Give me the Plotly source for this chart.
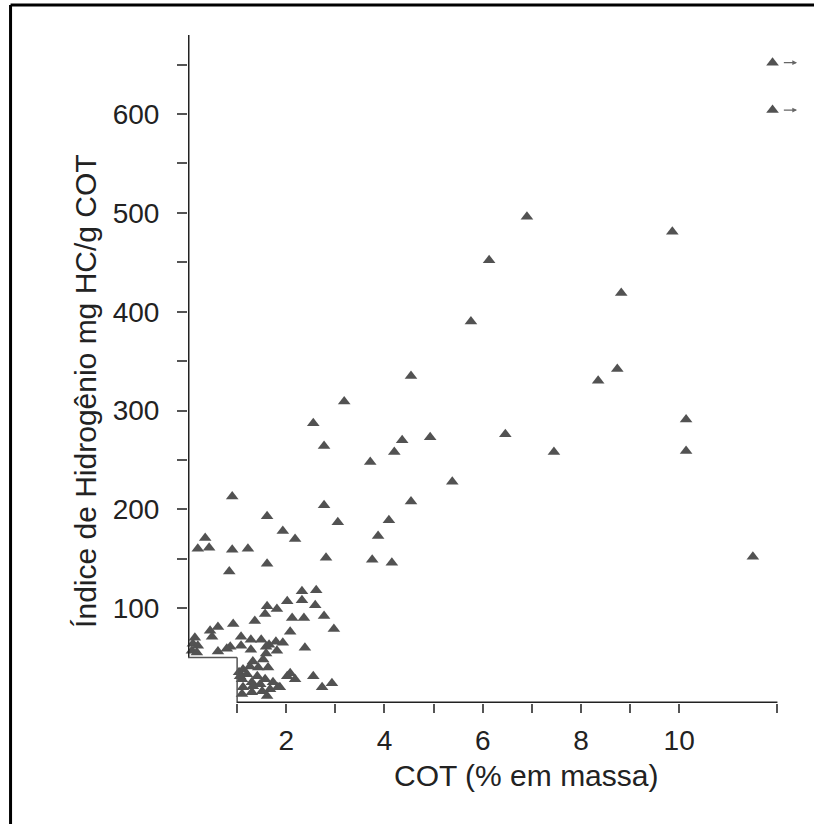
import plotly.graph_objects as go

# --- dados (COT em % massa, IH em mg HC/g COT) ---
cot = [6.90, 6.13, 5.76, 4.54, 3.18, 2.55, 2.77, 3.71, 4.20, 4.36, 4.93, 5.38,
       4.54, 2.77, 3.05, 4.09, 3.87, 3.75, 4.15, 2.81, 6.46, 7.45, 8.35, 8.74,
       8.82, 9.86, 10.14, 10.14, 11.50,
       0.90, 1.61, 1.93, 2.18, 0.35, 0.20, 0.43, 0.90, 1.22, 0.84, 1.61,
       2.32, 2.61, 2.02, 2.32, 2.59, 1.61, 1.81, 1.57, 1.36, 0.92, 0.61, 0.45,
       0.49, 2.12, 2.36, 2.77, 2.97, 2.08, 1.08, 1.28, 1.49, 1.65, 1.79, 1.93,
       1.81, 1.59, 1.28, 1.08, 0.86, 0.79, 0.61, 2.38, 0.14, 0.10, 0.20, 0.08,
       0.18,
       1.59, 1.53, 1.32, 1.26, 1.12, 1.43, 1.63, 1.04, 1.20, 1.41, 1.57, 1.10,
       1.30, 1.47, 1.73, 1.87, 1.67, 2.02, 2.08, 2.18, 2.55, 2.93, 2.73, 1.12,
       1.30, 1.61, 1.10, 1.51, 1.83, 1.32, 1.06]
ih = [496, 452, 390, 335, 309, 287, 264, 248, 258, 270, 273, 228,
      208, 204, 187, 189, 173, 149, 146, 151, 276, 258, 330, 342,
      419, 481, 291, 259, 152,
      213, 193, 178, 170, 171, 160, 161, 159, 160, 137, 145,
      117, 118, 107, 108, 103, 102, 99, 94, 87, 84, 81, 77,
      71, 90, 90, 92, 79, 76, 71, 68, 68, 63, 66, 65,
      57, 61, 58, 62, 61, 59, 56, 60, 70, 64, 62, 57,
      55,
      54, 48, 46, 41, 38, 40, 40, 35, 33, 31, 28, 28,
      25, 23, 25, 20, 18, 31, 34, 28, 31, 24, 20, 20,
      15, 11, 13, 16, 20, 21, 31]

# amostras fora da escala (indicadas com seta)
cot_fora = [11.90, 11.90]
ih_fora = [652, 604]

x_ticks = [1, 2, 3, 4, 5, 6, 7, 8, 9, 10, 12]
x_labels = ["", "2", "", "4", "", "6", "", "8", "", "10", ""]
y_ticks = [100, 150, 200, 250, 300, 350, 400, 450, 500, 550, 600, 650]
y_labels = ["100", "", "200", "", "300", "", "400", "", "500", "", "600", ""]

FONTE = "Liberation Sans, Arial, sans-serif"
COR_PONTO = "#525252"
COR_EIXO = "#222222"

fig = go.Figure()

fig.add_trace(go.Scatter(
    x=cot + cot_fora, y=ih + ih_fora, mode="markers",
    marker=dict(symbol="triangle-up", size=11, color=COR_PONTO, line=dict(width=0)),
    cliponaxis=False, showlegend=False, hoverinfo="x+y"
))

# setas dos pontos fora da escala
for xv, yv in zip(cot_fora, ih_fora):
    fig.add_annotation(x=xv + 0.5, y=yv, ax=xv + 0.2, ay=yv, xref="x", yref="y",
                       axref="x", ayref="y", text="", showarrow=True,
                       arrowhead=2, arrowsize=0.8, arrowwidth=1.2, arrowcolor="#666")

Y0 = 4  # altura da linha do eixo x
# eixos em degrau
fig.add_shape(type="line", x0=0, x1=0, y0=50, y1=680, line=dict(color=COR_EIXO, width=3))
fig.add_shape(type="line", x0=-0.15, x1=1, y0=50, y1=50, line=dict(color="#555", width=1.5))
fig.add_shape(type="line", x0=1, x1=1, y0=50, y1=Y0, line=dict(color="#555", width=1.5))
fig.add_shape(type="line", x0=1, x1=12, y0=Y0, y1=Y0, line=dict(color=COR_EIXO, width=3))

# moldura (só topo e esquerda aparecem)
fig.add_shape(type="line", xref="paper", yref="paper", x0=-0.289, x1=-0.289, y0=-0.5, y1=1.045,
              line=dict(color="black", width=3))
fig.add_shape(type="line", xref="paper", yref="paper", x0=-0.289, x1=1.5, y0=1.045, y1=1.045,
              line=dict(color="black", width=3))

fig.add_annotation(text="COT (% em massa)", xref="paper", yref="paper", x=0.55, y=-0.108,
                   xanchor="center", yanchor="middle",
                   showarrow=False, font=dict(family=FONTE, size=30, color=COR_EIXO))
fig.add_annotation(text="Índice de Hidrogênio mg HC/g COT", xref="paper", yref="paper",
                   x=-0.168, y=0.467, xanchor="center", yanchor="middle",
                   textangle=-90, showarrow=False,
                   font=dict(family=FONTE, size=30, color=COR_EIXO))

fig.update_xaxes(range=[0, 12.5], showgrid=False, zeroline=False, showline=False,
                 tickvals=x_ticks, ticktext=x_labels, ticks="outside", ticklen=9,
                 tickwidth=1.5, tickcolor="#555", ticklabelstandoff=3,
                 tickfont=dict(family=FONTE, size=28, color=COR_EIXO))
fig.update_yaxes(range=[Y0, 680], showgrid=False, zeroline=False, showline=False,
                 tickvals=y_ticks, ticktext=y_labels, ticks="outside", ticklen=10,
                 tickwidth=1.5, tickcolor="#555", ticklabelstandoff=12,
                 tickfont=dict(family=FONTE, size=28, color=COR_EIXO))

fig.update_layout(
    width=814, height=824,
    margin=dict(l=188, r=12, t=35, b=121),
    plot_bgcolor="white", paper_bgcolor="white",
    font=dict(family=FONTE)
)

fig.write_html("out.html", config={"displayModeBar": False},
               post_script="document.body.style.margin='0';")
